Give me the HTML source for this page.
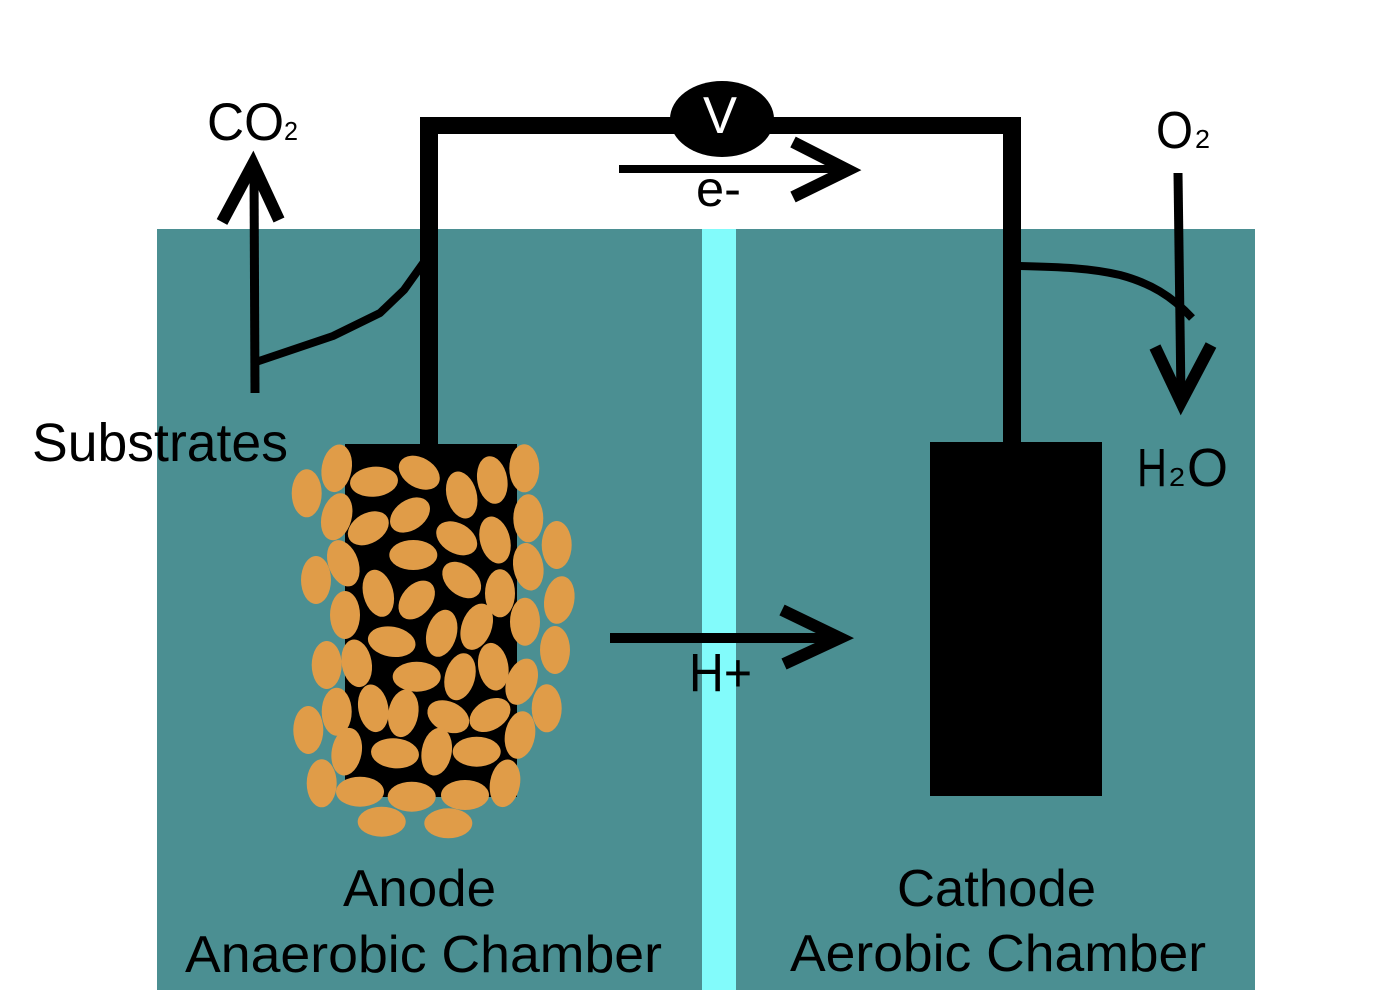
<!DOCTYPE html>
<html>
<head>
<meta charset="utf-8">
<style>
  html, body { margin: 0; padding: 0; background: #ffffff; }
  svg { display: block; }
  text { font-family: "Liberation Sans", Arial, sans-serif; fill: #000; }
</style>
</head>
<body>
<svg width="1400" height="990" viewBox="0 0 1400 990" xmlns="http://www.w3.org/2000/svg">
  <rect x="0" y="0" width="1400" height="990" fill="#ffffff"/>
  <!-- teal tank -->
  <rect x="157" y="229" width="1098" height="761" fill="#4b8f92"/>
  <!-- membrane -->
  <rect x="702" y="229" width="34" height="761" fill="#82fbfb"/>

  <!-- wires -->
  <rect x="420" y="117" width="18" height="330" fill="#000"/>
  <rect x="420" y="117" width="601" height="17" fill="#000"/>
  <rect x="1003" y="117" width="18" height="327" fill="#000"/>

  <!-- voltmeter -->
  <ellipse cx="722" cy="119" rx="52" ry="38" fill="#000"/>
  <text x="703" y="133" font-size="52" fill="#fff" style="fill:#fff" textLength="34" lengthAdjust="spacingAndGlyphs">V</text>

  <!-- e- arrow -->
  <line x1="619" y1="169" x2="846" y2="169" stroke="#000" stroke-width="8"/>
  <polyline points="793,142 848,170 793,197" fill="none" stroke="#000" stroke-width="12" stroke-linejoin="miter"/>
  <text x="696" y="206" font-size="50" textLength="45" lengthAdjust="spacingAndGlyphs">e-</text>

  <!-- CO2 arrow -->
  <line x1="254" y1="170" x2="255" y2="393" stroke="#000" stroke-width="9"/>
  <polyline points="222,222 253,164 279,220" fill="none" stroke="#000" stroke-width="12" stroke-linejoin="miter"/>
  <polyline points="256,362 333,336 380,313 404,290 424,262" fill="none" stroke="#000" stroke-width="8" stroke-linejoin="round"/>
  <text x="207" y="140" font-size="53" textLength="77" lengthAdjust="spacingAndGlyphs">CO</text>
  <text x="284" y="140" font-size="26" textLength="14" lengthAdjust="spacingAndGlyphs">2</text>

  <!-- O2 arrow -->
  <line x1="1178" y1="173" x2="1181" y2="398" stroke="#000" stroke-width="9"/>
  <polyline points="1155,347 1181,402 1211,345" fill="none" stroke="#000" stroke-width="12" stroke-linejoin="miter"/>
  <path d="M1020,266 C1060,267 1090,268 1120,275 C1150,283 1172,296 1192,318" fill="none" stroke="#000" stroke-width="8"/>
  <text x="1156" y="148" font-size="52" textLength="37" lengthAdjust="spacingAndGlyphs">O</text>
  <text x="1195" y="148" font-size="26" textLength="15" lengthAdjust="spacingAndGlyphs">2</text>

  <!-- H2O -->
  <text x="1137" y="486" font-size="54" textLength="30" lengthAdjust="spacingAndGlyphs">H</text>
  <text x="1169" y="486" font-size="26" textLength="16" lengthAdjust="spacingAndGlyphs">2</text>
  <text x="1187" y="486" font-size="54" textLength="41" lengthAdjust="spacingAndGlyphs">O</text>

  <!-- cathode -->
  <rect x="930" y="442" width="172" height="354" fill="#000"/>

  <!-- anode -->
  <rect x="345" y="444" width="172" height="353" fill="#000"/>
  <g fill="#e09c48">
    <ellipse cx="336.7" cy="468.3" rx="15" ry="24" transform="rotate(10 336.7 468.3)"/>
    <ellipse cx="306.7" cy="493.3" rx="15" ry="24"/>
    <ellipse cx="374" cy="481.7" rx="24" ry="15" transform="rotate(-5 374 481.7)"/>
    <ellipse cx="419.3" cy="472.7" rx="22" ry="15" transform="rotate(30 419.3 472.7)"/>
    <ellipse cx="461.7" cy="495" rx="15" ry="24" transform="rotate(-15 461.7 495)"/>
    <ellipse cx="492.3" cy="480" rx="15" ry="24" transform="rotate(-10 492.3 480)"/>
    <ellipse cx="524.3" cy="468.3" rx="15" ry="24"/>
    <ellipse cx="336.7" cy="516.7" rx="15" ry="24" transform="rotate(15 336.7 516.7)"/>
    <ellipse cx="368.3" cy="528.3" rx="22" ry="15" transform="rotate(-30 368.3 528.3)"/>
    <ellipse cx="410" cy="515" rx="22" ry="15" transform="rotate(-35 410 515)"/>
    <ellipse cx="456.7" cy="538.3" rx="22" ry="15" transform="rotate(30 456.7 538.3)"/>
    <ellipse cx="495" cy="540" rx="15" ry="24" transform="rotate(-15 495 540)"/>
    <ellipse cx="528.3" cy="518.3" rx="15" ry="24"/>
    <ellipse cx="556.7" cy="545" rx="15" ry="24"/>
    <ellipse cx="316" cy="580" rx="15" ry="24"/>
    <ellipse cx="343.3" cy="563.3" rx="15" ry="24" transform="rotate(-20 343.3 563.3)"/>
    <ellipse cx="413.3" cy="555" rx="24" ry="15"/>
    <ellipse cx="461.7" cy="580" rx="22" ry="15" transform="rotate(40 461.7 580)"/>
    <ellipse cx="500" cy="593.3" rx="15" ry="24"/>
    <ellipse cx="528.3" cy="566.7" rx="15" ry="24" transform="rotate(-10 528.3 566.7)"/>
    <ellipse cx="559.3" cy="600" rx="15" ry="24" transform="rotate(10 559.3 600)"/>
    <ellipse cx="345" cy="615" rx="15" ry="24"/>
    <ellipse cx="378.3" cy="593.3" rx="15" ry="24" transform="rotate(-15 378.3 593.3)"/>
    <ellipse cx="416.7" cy="600" rx="22" ry="15" transform="rotate(-50 416.7 600)"/>
    <ellipse cx="441.7" cy="633.3" rx="15" ry="24" transform="rotate(15 441.7 633.3)"/>
    <ellipse cx="476.7" cy="626.7" rx="15" ry="24" transform="rotate(20 476.7 626.7)"/>
    <ellipse cx="525" cy="621.7" rx="15" ry="24"/>
    <ellipse cx="555" cy="650" rx="15" ry="24"/>
    <ellipse cx="391.7" cy="641.7" rx="24" ry="15" transform="rotate(10 391.7 641.7)"/>
    <ellipse cx="326.7" cy="665" rx="15" ry="24"/>
    <ellipse cx="356.7" cy="663.3" rx="15" ry="24" transform="rotate(-10 356.7 663.3)"/>
    <ellipse cx="416.7" cy="676.7" rx="24" ry="15"/>
    <ellipse cx="460" cy="676.7" rx="15" ry="24" transform="rotate(15 460 676.7)"/>
    <ellipse cx="493.3" cy="666.7" rx="15" ry="24" transform="rotate(-10 493.3 666.7)"/>
    <ellipse cx="521.7" cy="681.7" rx="15" ry="24" transform="rotate(20 521.7 681.7)"/>
    <ellipse cx="546.7" cy="708.3" rx="15" ry="24"/>
    <ellipse cx="308.3" cy="730" rx="15" ry="24"/>
    <ellipse cx="336.7" cy="711.7" rx="15" ry="24"/>
    <ellipse cx="373.3" cy="708.3" rx="15" ry="24" transform="rotate(-10 373.3 708.3)"/>
    <ellipse cx="403.3" cy="713.3" rx="15" ry="24" transform="rotate(10 403.3 713.3)"/>
    <ellipse cx="448.3" cy="716.7" rx="22" ry="15" transform="rotate(25 448.3 716.7)"/>
    <ellipse cx="490" cy="715" rx="22" ry="15" transform="rotate(-30 490 715)"/>
    <ellipse cx="520" cy="735" rx="15" ry="24" transform="rotate(10 520 735)"/>
    <ellipse cx="346.7" cy="751.7" rx="15" ry="24" transform="rotate(10 346.7 751.7)"/>
    <ellipse cx="395" cy="753.3" rx="24" ry="15" transform="rotate(5 395 753.3)"/>
    <ellipse cx="436.7" cy="751.7" rx="15" ry="24" transform="rotate(10 436.7 751.7)"/>
    <ellipse cx="476.7" cy="751.7" rx="24" ry="15"/>
    <ellipse cx="321.7" cy="783.3" rx="15" ry="24"/>
    <ellipse cx="360" cy="791.7" rx="24" ry="15"/>
    <ellipse cx="411.7" cy="796.7" rx="24" ry="15"/>
    <ellipse cx="465" cy="795" rx="24" ry="15"/>
    <ellipse cx="505" cy="783.3" rx="15" ry="24" transform="rotate(10 505 783.3)"/>
    <ellipse cx="381.7" cy="821.7" rx="24" ry="15"/>
    <ellipse cx="448.3" cy="823.3" rx="24" ry="15"/>
  </g>

  <!-- H+ arrow -->
  <line x1="610" y1="638" x2="838" y2="638" stroke="#000" stroke-width="10"/>
  <polyline points="782,610 840,638 784,664" fill="none" stroke="#000" stroke-width="12" stroke-linejoin="miter"/>
  <text x="689" y="691" font-size="54" textLength="63" lengthAdjust="spacingAndGlyphs">H+</text>

  <!-- labels -->
  <text x="32" y="461" font-size="54" textLength="256" lengthAdjust="spacingAndGlyphs">Substrates</text>
  <text x="343" y="906" font-size="52" textLength="153" lengthAdjust="spacingAndGlyphs">Anode</text>
  <text x="185" y="972" font-size="52" textLength="477" lengthAdjust="spacingAndGlyphs">Anaerobic Chamber</text>
  <text x="897" y="906" font-size="52" textLength="199" lengthAdjust="spacingAndGlyphs">Cathode</text>
  <text x="790" y="971" font-size="52" textLength="416" lengthAdjust="spacingAndGlyphs">Aerobic Chamber</text>
</svg>
</body>
</html>
